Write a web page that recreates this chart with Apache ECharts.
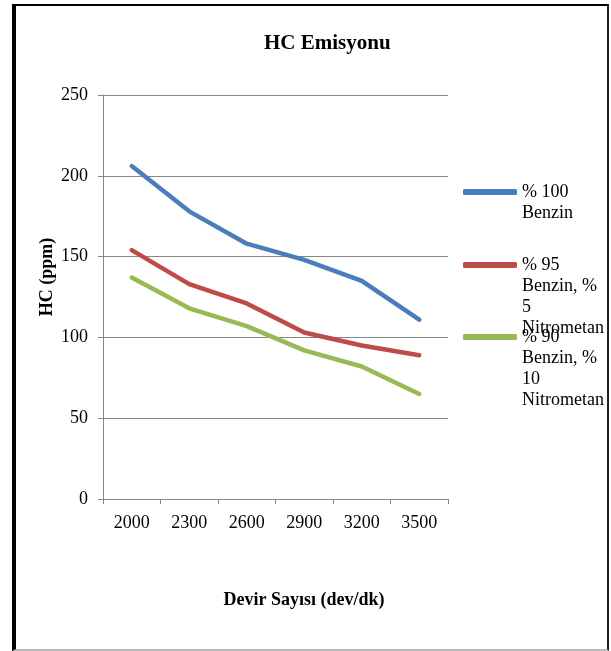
<!DOCTYPE html>
<html>
<head>
<meta charset="utf-8">
<script src="https://cdn.jsdelivr.net/npm/echarts@6/dist/echarts.min.js"></script>
<style>
html,body{margin:0;padding:0;background:#fff;}
#chart{position:absolute;left:0;top:0;width:611px;height:651px;}
#frame{position:absolute;left:12px;top:4px;width:597px;height:647px;box-sizing:border-box;
border-left:4px solid #000;border-top:2px solid #000;border-right:2px solid #222;border-bottom:2px solid #bbb;pointer-events:none;}
</style>
</head>
<body>
<div id="chart"></div>
<div id="frame"></div>
<script>
const categories = ['2000', '2300', '2600', '2900', '3200', '3500'];
const benzin100 = [206, 178, 158, 148, 135, 111];
const nitro5 = [154, 133, 121, 103, 95, 89];
const nitro10 = [137, 118, 107, 92, 82, 65];
const seriesNames = ['% 100 Benzin', '% 95 Benzin, % 5 Nitrometan', '% 90 Benzin, % 10 Nitrometan'];
const legendLines = [['% 100', 'Benzin'], ['% 95', 'Benzin, %', '5', 'Nitrometan'], ['% 90', 'Benzin, %', '10', 'Nitrometan']];
const colors = ['#4a7ebb', '#be4b48', '#98b954'];
const yTicks = [0, 50, 100, 150, 200, 250];

const font = '"Liberation Serif", "Times New Roman", serif';
const chart = echarts.init(document.getElementById('chart'), null, {renderer: 'canvas'});
const LH = 21;

// prepend blank lines so that the first text line sits level with the legend icon
function legendText(i) {
  const lines = legendLines[i];
  const blanks = [];
  for (let k = 0; k < lines.length - 1; k++) blanks.push(' ');
  return blanks.concat(lines).join('\n');
}

function makeLegend(i, iconY) {
  const n = legendLines[i].length;
  const h = (2 * n - 1) * LH;
  return {
    data: [seriesNames[i]],
    left: 463, top: iconY - h / 2, orient: 'vertical', padding: 0,
    icon: 'roundRect', itemWidth: 54, itemHeight: 6,
    itemStyle: {color: colors[i]},
    formatter: () => legendText(i),
    textStyle: {fontFamily: font, fontSize: 18, lineHeight: LH, color: '#000'}
  };
}

const allData = [benzin100, nitro5, nitro10];

chart.setOption({
  animation: false,
  backgroundColor: '#fff',
  title: {
    text: 'HC Emisyonu', left: 259, top: 28,
    textStyle: {fontFamily: font, fontSize: 21, fontWeight: 'bold', color: '#000'}
  },
  legend: [makeLegend(0, 192), makeLegend(1, 265), makeLegend(2, 337)],
  grid: {left: 103, top: 95, right: 163, bottom: 152, containLabel: false},
  xAxis: {
    type: 'category', data: categories, boundaryGap: true,
    name: 'Devir Sayısı (dev/dk)', nameLocation: 'middle', nameGap: 92, nameMoveOverlap: false,
    nameTextStyle: {fontFamily: font, fontSize: 18, fontWeight: 'bold', color: '#000', padding: [0, 0, 0, 57]},
    axisLine: {lineStyle: {color: '#868686', width: 1}},
    axisTick: {show: true, length: 5, inside: false, alignWithLabel: false, lineStyle: {color: '#868686'}},
    axisLabel: {fontFamily: font, fontSize: 18, color: '#000', margin: 15}
  },
  yAxis: {
    type: 'value', min: 0, max: 250, interval: 50,
    name: 'HC (ppm)', nameLocation: 'middle', nameGap: 47, nameMoveOverlap: false,
    nameTextStyle: {fontFamily: font, fontSize: 18, fontWeight: 'bold', color: '#000', padding: [0, 0, 0, 40]},
    axisLine: {show: true, lineStyle: {color: '#868686', width: 1}},
    axisTick: {show: true, length: 5, inside: false, lineStyle: {color: '#868686'}},
    axisLabel: {fontFamily: font, fontSize: 18, color: '#000', margin: 15,
      formatter: v => yTicks.indexOf(v) >= 0 ? String(v) : ''},
    splitLine: {show: true, lineStyle: {color: '#868686', width: 1}}
  },
  series: seriesNames.map((n, i) => ({
    name: n, type: 'line', data: allData[i], showSymbol: false, symbol: 'none',
    lineStyle: {color: colors[i], width: 4.5, cap: 'round', join: 'round'},
    itemStyle: {color: colors[i]}
  }))
});
</script>
</body>
</html>
